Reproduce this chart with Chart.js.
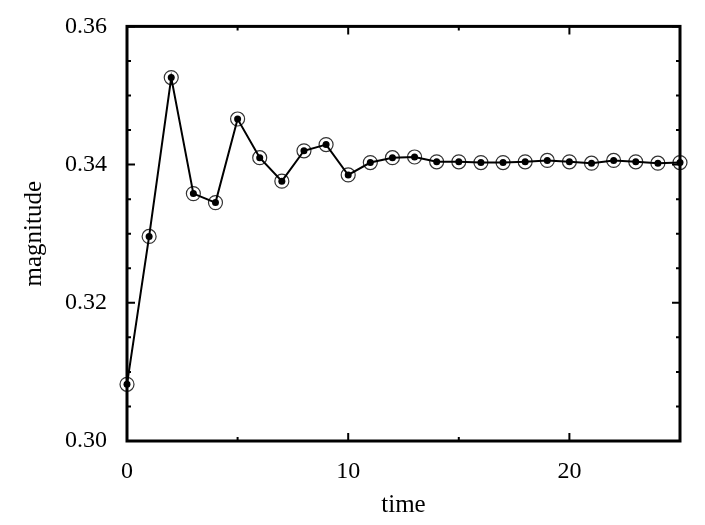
<!DOCTYPE html>
<html>
<head>
<meta charset="utf-8">
<script src="https://cdn.jsdelivr.net/npm/chart.js@4"></script>
<style>
  html, body { margin: 0; padding: 0; background: #fff; }
  #wrap { width: 705px; height: 525px; }
</style>
</head>
<body>
<div id="wrap"><canvas id="chart" width="705" height="525"></canvas></div>
<script>
// ── Data ──────────────────────────────────────────────────────────────
const time = [0, 1, 2, 3, 4, 5, 6, 7, 8, 9, 10, 11, 12, 13, 14, 15, 16, 17, 18, 19, 20, 21, 22, 23, 24, 25];
const magnitude = [0.3082, 0.3296, 0.3526, 0.3358, 0.3345, 0.3466, 0.3410, 0.3376, 0.3420, 0.3429,
  0.3385, 0.3403, 0.3410, 0.3411, 0.3404, 0.3404, 0.3403, 0.3403, 0.3404, 0.3406,
  0.3404, 0.3402, 0.3406, 0.3404, 0.3402, 0.3403];
const xTicks = [0, 10, 20];
const yTicks = [0.30, 0.32, 0.34, 0.36];

const FONT = 'Liberation Serif, Times New Roman, serif';
const points = time.map((t, i) => ({ x: t, y: magnitude[i] }));

// ── Frame + inward ticks (gnuplot look) ───────────────────────────────
const framePlugin = {
  id: 'frame',
  afterDatasetsDraw(chart) {
    const { ctx, chartArea: a, scales: { x, y } } = chart;
    ctx.save();
    ctx.strokeStyle = '#000';
    ctx.lineWidth = 2;
    ctx.beginPath();
    for (let v = 0; v <= 25; v += 5) {
      const px = x.getPixelForValue(v);
      const len = v % 10 === 0 ? 8 : 4;
      ctx.moveTo(px, a.bottom); ctx.lineTo(px, a.bottom - len);
      ctx.moveTo(px, a.top); ctx.lineTo(px, a.top + len);
    }
    for (let k = 0; k <= 12; k++) {
      const v = 0.30 + k * 0.005;
      const py = y.getPixelForValue(v);
      const len = k % 4 === 0 ? 8 : 4;
      ctx.moveTo(a.left, py); ctx.lineTo(a.left + len, py);
      ctx.moveTo(a.right, py); ctx.lineTo(a.right - len, py);
    }
    ctx.stroke();
    ctx.lineWidth = 3;
    ctx.strokeRect(a.left, a.top, a.right - a.left, a.bottom - a.top);
    ctx.restore();
  }
};

// ── Chart ─────────────────────────────────────────────────────────────
new Chart(document.getElementById('chart').getContext('2d'), {
  type: 'line',
  data: {
    datasets: [
      {
        data: points,
        clip: 12,
        borderColor: '#000',
        borderWidth: 2,
        pointRadius: 3.5,
        pointBackgroundColor: '#000',
        pointBorderWidth: 0,
        tension: 0
      },
      {
        data: points,
        clip: 12,
        showLine: false,
        pointRadius: 7,
        pointBackgroundColor: 'rgba(0,0,0,0)',
        pointBorderColor: '#333',
        pointBorderWidth: 1.2
      }
    ]
  },
  options: {
    responsive: false,
    animation: false,
    events: [],
    layout: { padding: { left: 0, top: 20, right: 25, bottom: 0 } },
    plugins: { legend: { display: false }, tooltip: { enabled: false } },
    scales: {
      x: {
        type: 'linear',
        min: 0,
        max: 25,
        grid: { display: false },
        border: { display: false },
        afterBuildTicks: s => { s.ticks = xTicks.map(v => ({ value: v })); },
        afterFit: s => { s.height = 84; },
        ticks: { color: '#000', padding: 8, font: { family: FONT, size: 24 }, maxRotation: 0 },
        title: { display: true, text: 'time', color: '#000', padding: { top: 0, bottom: 5 }, font: { family: FONT, size: 25 } }
      },
      y: {
        type: 'linear',
        min: 0.30,
        max: 0.36,
        grid: { display: false },
        border: { display: false },
        afterBuildTicks: s => { s.ticks = yTicks.map(v => ({ value: v })); },
        afterFit: s => { s.width = 127; },
        ticks: { color: '#000', padding: 12, font: { family: FONT, size: 24 }, callback: v => Number(v).toFixed(2) },
        title: { display: true, text: 'magnitude', color: '#000', padding: { top: 19, bottom: 0 }, font: { family: FONT, size: 25 } }
      }
    }
  },
  plugins: [framePlugin]
});
</script>
</body>
</html>
